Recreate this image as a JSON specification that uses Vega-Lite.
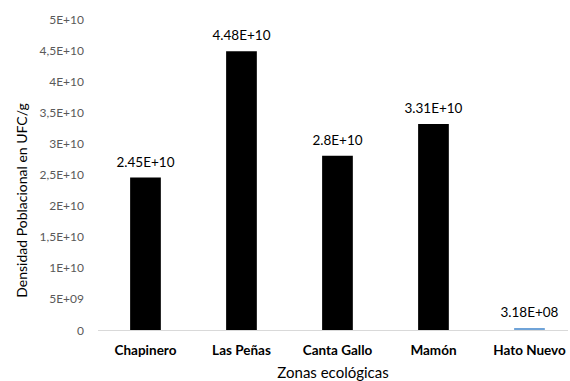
{
  "$schema": "https://vega.github.io/schema/vega-lite/v6.json",
  "width": 470,
  "height": 311,
  "autosize": {"type": "none"},
  "padding": {"left": 97.5, "top": 19, "right": 2.5, "bottom": 51},
  "background": "white",
  "config": {"view": {"stroke": null}, "font": "Lato"},
  "data": {"values": [
    {"zona": "Chapinero", "densidad": 24500000000, "etiqueta": "2.45E+10", "grupo": "a"},
    {"zona": "Las Peñas", "densidad": 44800000000, "etiqueta": "4.48E+10", "grupo": "a"},
    {"zona": "Canta Gallo", "densidad": 28000000000, "etiqueta": "2.8E+10", "grupo": "a"},
    {"zona": "Mamón", "densidad": 33100000000, "etiqueta": "3.31E+10", "grupo": "a"},
    {"zona": "Hato Nuevo", "densidad": 318000000, "etiqueta": "3.18E+08", "grupo": "b"}
  ]},
  "encoding": {
    "x": {
      "field": "zona", "type": "nominal", "sort": null,
      "scale": {"paddingInner": 0.68, "paddingOuter": 0.288, "align": 0.59},
      "axis": {
        "title": "Zonas ecológicas", "titleFontSize": 15, "titleFontWeight": "normal", "titleColor": "#000", "titlePadding": 9,
        "labelAngle": 0, "labelFontSize": 13.5, "labelColor": "#000", "labelFontWeight": "bold", "labelPadding": 13,
        "ticks": false, "domainColor": "#d9d9d9", "domainWidth": 1
      }
    },
    "y": {
      "field": "densidad", "type": "quantitative",
      "scale": {"domain": [0, 50000000000], "nice": false},
      "axis": {
        "title": "Densidad Poblacional en UFC/g", "titleFontSize": 14, "titleFontWeight": "normal", "titleColor": "#000", "titlePadding": 10, "titleY": 181,
        "values": [0, 5000000000, 10000000000, 15000000000, 20000000000, 25000000000, 30000000000, 35000000000, 40000000000, 45000000000, 50000000000],
        "labelExpr": "datum.value == 0 ? '0' : replace(format(datum.value / pow(10, floor(log(datum.value) / LN10 + 1e-9)), '.2~f'), '.', ',') + 'E+' + format(floor(log(datum.value) / LN10 + 1e-9), '02d')",
        "labelFontSize": 12, "labelColor": "#595959", "labelPadding": 14,
        "ticks": false, "domain": false, "grid": false
      }
    }
  },
  "layer": [
    {
      "mark": {"type": "bar"},
      "encoding": {
        "color": {"field": "grupo", "type": "nominal", "scale": {"domain": ["a", "b"], "range": ["#000000", "#6fa3d8"]}, "legend": null}
      }
    },
    {
      "mark": {"type": "text", "baseline": "bottom", "dy": -8, "fontSize": 13.5, "color": "#000"},
      "encoding": {"text": {"field": "etiqueta"}}
    }
  ]
}
